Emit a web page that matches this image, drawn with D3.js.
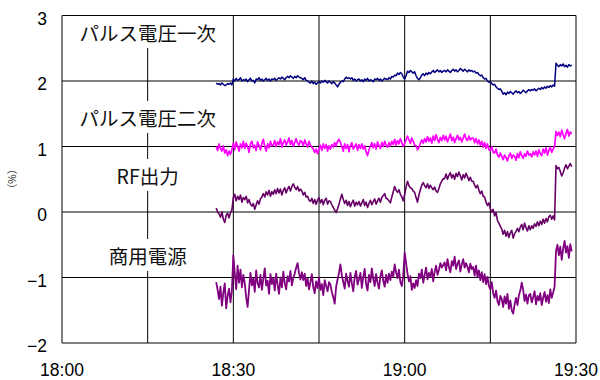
<!DOCTYPE html>
<html>
<head>
<meta charset="utf-8">
<script src="https://cdn.jsdelivr.net/npm/d3@7"></script>
<style>
  body { margin: 0; background: #fff; }
  svg { display: block; }
</style>
</head>
<body>
<svg id="chart" width="600" height="380"></svg>
<script>
// Series names and colours
const seriesNames = ["パルス電圧一次", "パルス電圧二次", "RF出力", "商用電源"];
const seriesColors = ["#000080", "#ff00ff", "#660066", "#800080"];
const seriesWidths = [1.5, 1.7, 1.6, 1.8];

// Sampling: first sample at 18:27, one sample every 15 s (minutes after 18:00)
const startMinute = 27;
const stepMinutes = 0.25;

// Deviation (%) per sample
const pulsePrimary = [
  1.97,1.95,1.96,1.94,1.97,1.95,1.93,1.94,1.96,1.95,1.97,1.94,2.03,2.00,2.04,2.01,2.02,2.05,2.00,2.02,
  2.01,2.03,1.99,2.02,2.04,2.00,2.01,1.97,2.03,2.02,2.05,2.01,2.03,2.00,2.02,2.04,2.01,2.03,2.00,2.03,
  2.02,2.04,2.01,2.03,2.05,2.03,2.06,2.04,2.02,2.05,2.07,2.05,2.08,2.06,2.04,2.07,2.05,2.08,2.06,2.05,
  2.04,2.02,2.05,2.01,2.00,1.98,1.97,2.00,1.96,1.98,1.95,1.97,1.99,1.97,2.00,1.98,2.01,1.99,1.97,2.00,
  1.98,1.96,1.99,1.97,1.94,1.91,1.95,1.98,2.00,1.99,2.03,2.06,2.04,2.05,2.03,2.05,2.01,2.03,2.00,2.02,
  2.03,2.00,2.02,1.99,2.03,2.01,2.04,2.00,2.02,2.01,1.99,2.03,2.02,2.04,2.01,2.03,2.00,2.02,2.04,2.03,
  2.02,2.05,2.03,2.07,2.06,2.09,2.08,2.12,2.10,2.13,2.11,2.06,2.03,2.08,2.15,2.13,2.16,2.14,2.12,2.14,
  2.08,2.04,2.02,2.05,2.09,2.11,2.08,2.12,2.10,2.13,2.11,2.14,2.16,2.13,2.15,2.17,2.14,2.16,2.13,2.15,
  2.16,2.14,2.17,2.15,2.13,2.16,2.18,2.15,2.17,2.14,2.16,2.19,2.17,2.15,2.18,2.16,2.14,2.17,2.15,2.16,
  2.14,2.15,2.12,2.13,2.10,2.08,2.09,2.05,2.03,2.04,2.00,1.98,1.99,1.96,1.94,1.95,1.91,1.89,1.87,1.88,
  1.84,1.80,1.82,1.79,1.83,1.81,1.84,1.82,1.80,1.83,1.85,1.82,1.84,1.81,1.83,1.86,1.84,1.82,1.85,1.87,
  1.85,1.87,1.86,1.88,1.85,1.87,1.89,1.87,1.90,1.88,1.91,1.89,1.92,1.90,1.93,1.91,1.94,1.92,2.27,2.24,
  2.22,2.25,2.23,2.26,2.22,2.24,2.21,2.25,2.23,2.24
];
const pulseSecondary = [
  1.00,0.94,1.04,0.97,0.93,1.01,0.90,0.95,0.86,0.93,0.88,0.95,1.05,0.95,1.07,1.00,0.93,1.04,0.98,1.08,
  0.97,1.05,1.00,0.91,1.04,1.08,0.98,1.02,0.94,1.07,1.01,0.95,1.05,1.11,1.00,0.93,1.04,0.98,1.08,1.01,
  1.02,1.09,1.00,1.07,1.03,1.12,0.99,1.06,1.10,1.02,1.07,1.13,1.03,1.09,1.00,1.06,1.12,1.05,1.02,1.09,
  1.07,1.01,1.10,1.04,0.99,1.08,1.02,0.99,0.96,0.91,0.96,0.89,0.96,1.02,0.94,1.04,0.97,1.03,0.93,1.01,
  0.96,1.03,0.99,1.06,1.01,1.08,1.11,1.06,1.00,0.93,1.04,0.97,1.03,0.92,1.01,1.06,0.96,1.00,1.04,0.94,
  1.03,0.97,1.04,0.96,1.01,0.92,0.86,0.95,1.00,1.06,0.98,1.04,0.96,1.07,1.01,0.97,1.06,1.00,1.08,1.02,
  0.99,1.06,1.01,1.08,1.03,1.11,1.02,1.09,1.04,1.12,1.06,1.00,1.05,1.10,1.16,1.10,1.05,1.13,1.08,1.02,
  1.01,0.95,0.99,1.05,1.10,1.05,1.12,1.07,1.15,1.08,1.13,1.05,1.16,1.09,1.18,1.11,1.06,1.14,1.09,1.17,
  1.10,1.16,1.07,1.13,1.19,1.09,1.14,1.06,1.12,1.17,1.10,1.14,1.07,1.13,1.19,1.12,1.09,1.16,1.10,1.13,
  1.13,1.06,1.12,1.04,1.10,1.02,1.08,0.99,1.06,0.97,1.04,0.95,0.94,1.00,0.91,0.90,0.96,0.87,0.84,0.90,
  0.85,0.80,0.87,0.83,0.78,0.86,0.90,0.82,0.87,0.85,0.79,0.89,0.83,0.92,0.86,0.82,0.89,0.85,0.93,0.87,
  0.89,0.84,0.92,0.87,0.93,0.85,0.95,0.89,0.86,0.96,0.90,0.98,0.87,0.94,0.99,0.91,0.96,1.00,1.23,1.17,
  1.22,1.15,1.25,1.18,1.12,1.20,1.26,1.16,1.22,1.19
];
const rfOutput = [
  0.06,0.00,-0.03,-0.08,0.00,-0.11,-0.16,-0.05,-0.02,-0.09,-0.01,0.03,0.22,0.27,0.17,0.24,0.19,0.26,0.15,0.22,
  0.19,0.24,0.14,0.19,0.12,0.09,0.13,0.04,0.11,0.17,0.12,0.20,0.23,0.28,0.23,0.31,0.26,0.33,0.24,0.31,
  0.27,0.34,0.28,0.36,0.29,0.35,0.26,0.33,0.37,0.29,0.35,0.39,0.32,0.39,0.43,0.38,0.34,0.39,0.32,0.35,
  0.32,0.26,0.30,0.23,0.24,0.18,0.16,0.21,0.13,0.19,0.12,0.18,0.22,0.14,0.19,0.11,0.18,0.21,0.12,0.17,
  0.16,0.11,0.07,0.03,-0.01,0.05,0.12,0.20,0.27,0.19,0.13,0.18,0.10,0.16,0.08,0.14,0.18,0.09,0.15,0.11,
  0.16,0.09,0.14,0.19,0.10,0.15,0.07,0.13,0.18,0.11,0.16,0.20,0.12,0.17,0.21,0.15,0.22,0.25,0.28,0.21,
  0.20,0.17,0.14,0.23,0.31,0.39,0.33,0.30,0.34,0.27,0.23,0.17,0.27,0.38,0.47,0.40,0.37,0.36,0.32,0.30,
  0.22,0.15,0.26,0.34,0.41,0.45,0.40,0.37,0.43,0.36,0.41,0.37,0.34,0.38,0.32,0.30,0.36,0.43,0.47,0.51,
  0.51,0.58,0.50,0.56,0.60,0.52,0.57,0.50,0.59,0.54,0.61,0.55,0.49,0.57,0.52,0.59,0.54,0.48,0.53,0.47,
  0.47,0.41,0.37,0.41,0.33,0.28,0.32,0.24,0.23,0.15,0.10,0.14,0.05,0.00,0.04,-0.06,-0.01,-0.13,-0.17,-0.22,
  -0.26,-0.34,-0.28,-0.37,-0.30,-0.39,-0.32,-0.28,-0.40,-0.33,-0.30,-0.25,-0.30,-0.23,-0.19,-0.27,-0.17,-0.24,-0.29,-0.21,
  -0.27,-0.21,-0.25,-0.18,-0.22,-0.15,-0.21,-0.14,-0.19,-0.11,-0.17,-0.10,-0.15,-0.07,-0.05,-0.11,-0.06,-0.12,0.71,0.66,
  0.68,0.62,0.55,0.60,0.67,0.72,0.66,0.70,0.74,0.69
];
const mainsPower = [
  -1.07,-1.19,-1.33,-1.14,-1.43,-1.23,-1.09,-1.47,-1.28,-1.17,-1.38,-1.20,-0.66,-0.93,-1.18,-0.82,-1.08,-0.88,-1.15,-0.96,
  -1.09,-1.30,-1.45,-1.19,-0.93,-1.12,-1.01,-1.22,-0.89,-1.09,-1.15,-0.96,-1.19,-1.02,-0.86,-1.12,-1.05,-1.25,-0.95,-1.10,
  -1.01,-1.20,-0.94,-1.11,-1.25,-1.00,-1.15,-0.91,-1.09,-1.18,-0.98,-1.06,-0.90,-1.12,-1.01,-0.94,-0.85,-0.78,-0.93,-1.03,
  -0.92,-1.04,-0.94,-1.13,-1.01,-1.18,-1.07,-0.95,-1.15,-1.24,-1.06,-1.16,-1.00,-1.19,-1.10,-1.27,-1.04,-1.13,-1.21,-1.07,
  -1.11,-1.22,-1.30,-1.40,-1.14,-1.03,-0.93,-0.80,-0.97,-1.07,-1.17,-0.94,-1.05,-1.14,-0.93,-1.09,-1.21,-0.99,-0.90,-1.11,
  -1.03,-0.93,-1.16,-0.99,-0.87,-1.10,-1.20,-0.96,-1.07,-0.86,-1.02,-1.13,-0.95,-1.08,-1.17,-0.98,-0.89,-1.05,-1.14,-0.96,
  -1.08,-0.94,-1.04,-0.91,-0.99,-0.80,-0.92,-1.01,-0.88,-1.07,-1.13,-0.97,-0.62,-0.78,-0.94,-1.06,-0.98,-1.19,-1.09,-1.16,
  -1.04,-1.13,-0.94,-1.01,-0.88,-1.08,-0.96,-0.85,-1.03,-0.93,-0.99,-0.87,-1.06,-0.91,-0.82,-0.96,-0.88,-0.78,-0.85,-0.81,
  -0.77,-0.89,-0.72,-0.84,-0.92,-0.75,-0.82,-0.68,-0.87,-0.79,-0.74,-0.91,-0.80,-0.72,-0.85,-0.78,-0.84,-0.92,-0.79,-0.87,
  -0.84,-0.97,-0.82,-0.99,-0.89,-1.04,-0.92,-1.07,-0.95,-1.10,-0.99,-1.13,-1.18,-1.07,-1.24,-1.31,-1.20,-1.36,-1.42,-1.28,
  -1.33,-1.45,-1.29,-1.40,-1.25,-1.48,-1.35,-1.50,-1.55,-1.41,-1.31,-1.42,-1.27,-1.20,-1.08,-1.19,-1.36,-1.26,-1.40,-1.27,
  -1.25,-1.38,-1.30,-1.21,-1.41,-1.28,-1.35,-1.24,-1.42,-1.31,-1.22,-1.37,-1.27,-1.39,-1.18,-1.31,-1.23,-1.14,-0.60,-0.50,
  -0.66,-0.53,-0.73,-0.56,-0.44,-0.62,-0.52,-0.70,-0.49,-0.60
];

// Axis ticks
const yTicks = [3, 2, 1, 0, -1, -2];
const gridMinutes = [0, 15, 30, 45, 60, 75, 90];
const timeLabels = ["18:00", "18:30", "19:00", "19:30"];

const seriesValues = [pulsePrimary, pulseSecondary, rfOutput, mainsPower];

const svg = d3.select("#chart");
const plotLeft = 62, plotRight = 576, plotTop = 15.5, plotBottom = 343;

const x = d3.scaleLinear().domain([0, 90]).range([plotLeft, plotRight]);
const y = d3.scaleLinear().domain([-2, 3]).range([plotBottom, plotTop]);

const toMinutes = s => { const [h, m] = s.split(":").map(Number); return (h - 18) * 60 + m; };

// Grid
const grid = svg.append("g").attr("stroke", "#000").attr("stroke-width", 1);
grid.selectAll("line.h").data(yTicks).join("line")
  .attr("class", "h")
  .attr("x1", plotLeft).attr("x2", plotRight)
  .attr("y1", d => y(d)).attr("y2", d => y(d));
grid.selectAll("line.v").data(gridMinutes).join("line")
  .attr("class", "v")
  .attr("x1", d => x(d)).attr("x2", d => x(d))
  .attr("y1", plotTop).attr("y2", plotBottom);

// Y tick labels
const tickFont = "'Liberation Sans', Arial, sans-serif";
svg.append("g").selectAll("text").data(yTicks).join("text")
  .attr("x", 47).attr("y", d => y(d) + 9)
  .attr("text-anchor", "end")
  .attr("font-family", tickFont).attr("font-size", 17.5)
  .text(d => d < 0 ? "\u2212" + Math.abs(d) : String(d));

// X tick labels
svg.append("g").selectAll("text").data(timeLabels).join("text")
  .attr("x", d => x(toMinutes(d))).attr("y", 376)
  .attr("text-anchor", "middle")
  .attr("font-family", tickFont).attr("font-size", 17.5)
  .text(d => d);

// Y axis title
svg.append("text")
  .attr("transform", "translate(12,179) rotate(90)")
  .attr("text-anchor", "middle").attr("dominant-baseline", "central")
  .attr("font-family", "'Noto Sans CJK JP', sans-serif").attr("font-size", 10.5)
  .attr("fill", "#333")
  .text("（%）");

// Series name labels stacked on the 18:15 grid line
const labelY = [32, 117, 175, 255];
const labelFont = "'Noto Sans CJK JP', sans-serif";
const labels = svg.append("g");
seriesNames.forEach((name, i) => {
  const g = labels.append("g");
  const t = g.append("text")
    .attr("x", x(15)).attr("y", labelY[i])
    .attr("text-anchor", "middle").attr("dominant-baseline", "central")
    .attr("font-family", labelFont).attr("font-size", 19.5)
    .attr("fill", "#111")
    .text(name);
  const bb = t.node().getBBox();
  g.insert("rect", "text")
    .attr("x", bb.x - 2).attr("y", labelY[i] - 16)
    .attr("width", bb.width + 4).attr("height", 32)
    .attr("fill", "#fff");
});

// Series traces
const line = d3.line()
  .x((d, i) => x(startMinute + i * stepMinutes))
  .y(d => y(d));
svg.append("g").selectAll("path").data(seriesValues).join("path")
  .attr("d", d => line(d))
  .attr("fill", "none")
  .attr("stroke", (d, i) => seriesColors[i])
  .attr("stroke-width", (d, i) => seriesWidths[i])
  .attr("stroke-linejoin", "round");
</script>
</body>
</html>
